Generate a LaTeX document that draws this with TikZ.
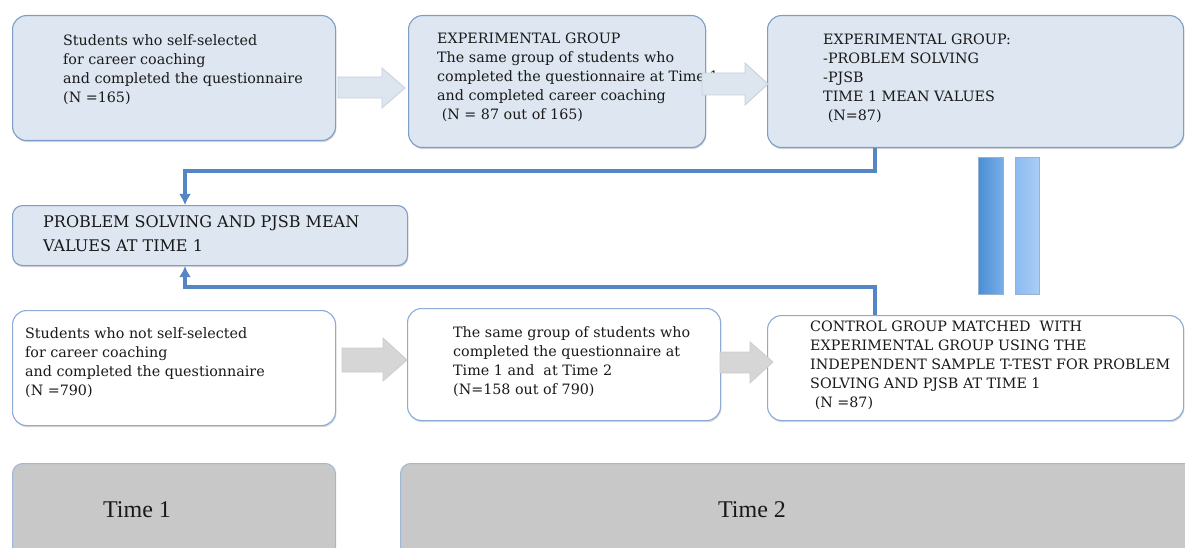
\documentclass[tikz,border=0pt]{standalone}
\usepackage{fontspec}
\setmainfont{DejaVu Serif}
\newfontfamily\timefont{Liberation Serif}
\usetikzlibrary{calc,shadows,arrows.meta}
\definecolor{topfill}{RGB}{221,230,241}
\definecolor{boxline}{RGB}{125,158,200}
\definecolor{lowline}{RGB}{140,172,215}
\definecolor{connblue}{RGB}{84,133,196}
\definecolor{arrfill}{RGB}{221,229,239}
\definecolor{arrline}{RGB}{196,208,222}
\definecolor{grayarr}{RGB}{214,214,214}
\definecolor{grayline}{RGB}{205,205,205}
\definecolor{timefill}{RGB}{200,200,200}
\definecolor{timeline}{RGB}{160,184,216}
\definecolor{txt}{RGB}{25,25,25}
\definecolor{barA}{RGB}{74,142,214}
\definecolor{barB}{RGB}{122,174,232}
\definecolor{barC}{RGB}{140,187,240}
\definecolor{barD}{RGB}{170,205,246}
\begin{document}
\begin{tikzpicture}[x=1pt,y=-1pt,
  shade box/.style={drop shadow={shadow xshift=0.8pt,shadow yshift=-1.6pt,opacity=0.22,fill=black!70}},
  topbox/.style={draw=boxline,line width=1.1pt,fill=topfill,rounded corners=14pt,anchor=north west,inner sep=0pt,shade box},
  lowbox/.style={draw=lowline,line width=1.1pt,fill=white,rounded corners=14pt,anchor=north west,inner sep=0pt,shade box},
  timebox/.style={draw=timeline,line width=1pt,fill=timefill,rounded corners=10pt,anchor=north west,inner sep=0pt},
  boxtext/.style={font=\fontsize{14.3}{19}\selectfont,text=txt,align=left,anchor=north west,inner sep=0pt},
  bigtext/.style={font=\fontsize{16}{24}\selectfont,text=txt,align=left,anchor=north west,inner sep=0pt},
  timetext/.style={font=\timefont\fontsize{24}{28}\selectfont,text=txt,inner sep=0pt},
  toparrow/.style={fill=arrfill,draw=arrline,line width=0.8pt},
  grayarrow/.style={fill=grayarr,draw=grayline,line width=0.8pt},
  conn/.style={draw=connblue,line width=3.4pt,-{Latex[length=11pt,width=12pt]}},
  bar/.style={draw=boxline!80,line width=0.6pt,anchor=north west,inner sep=0pt,minimum width=25pt,minimum height=137pt}
]
\useasboundingbox (0,0) rectangle (1185,548);

% top row boxes
\node[topbox,minimum width=323pt,minimum height=125pt] (A) at (12,15) {};
\node[topbox,minimum width=297pt,minimum height=132pt] (B) at (408,15) {};
\node[topbox,minimum width=416pt,minimum height=132pt] (C) at (767,15) {};

\node[boxtext] (tA) at (63,34) {Students who self-selected\\for career coaching\\and completed the questionnaire\\(N =165)};
\node[boxtext] (tB) at (437,33) {EXPERIMENTAL GROUP\\The same group of students who\\completed the questionnaire at Time 1\\and completed career coaching\\\ (N = 87 out of 165)};
\node[boxtext] (tC) at (823,34) {EXPERIMENTAL GROUP:\\-PROBLEM SOLVING\\-PJSB\\TIME 1 MEAN VALUES\\\ (N=87)};

% top block arrows
\draw[toparrow] (338,77) -- (382,77) -- (382,68) -- (405,88) -- (382,108) -- (382,98) -- (338,98) -- cycle;
\draw[toparrow] (702,73) -- (745,73) -- (745,63) -- (768,84) -- (745,105) -- (745,95) -- (702,95) -- cycle;

% middle box
\node[topbox,rounded corners=10pt,minimum width=395pt,minimum height=60pt] (D) at (12,205) {};
\node[bigtext] (tD) at (43,215) {PROBLEM SOLVING AND PJSB MEAN\\VALUES AT TIME 1};

% bars
\node[bar,left color=barA,right color=barB] (bar1) at (978,157) {};
\node[bar,left color=barC,right color=barD,minimum width=24pt] (bar2) at (1015,157) {};

% lower row boxes
\node[lowbox,minimum width=323pt,minimum height=115pt] (E) at (12,310) {};
\node[lowbox,minimum width=313pt,minimum height=112pt] (F) at (407,308) {};
\node[lowbox,minimum width=416pt,minimum height=105pt] (G) at (767,315) {};

\node[boxtext] (tE) at (25,327) {Students who not self-selected\\for career coaching\\and completed the questionnaire\\(N =790)};
\node[boxtext] (tF) at (453,326) {The same group of students who\\completed the questionnaire at\\Time 1 and \ at Time 2\\(N=158 out of 790)};
\node[boxtext] (tG) at (810,321) {CONTROL GROUP MATCHED \ WITH\\EXPERIMENTAL GROUP USING THE\\INDEPENDENT SAMPLE T-TEST FOR PROBLEM\\SOLVING AND PJSB AT TIME 1\\\ (N =87)};

% lower block arrows
\draw[grayarrow] (342,348) -- (383,348) -- (383,338) -- (407,360) -- (383,381) -- (383,372) -- (342,372) -- cycle;
\draw[grayarrow] (720,352) -- (750,352) -- (750,342) -- (773,362) -- (750,383) -- (750,373) -- (720,373) -- cycle;

% connectors
\draw[conn] ([xshift=108pt]C.south west) -- ++(0,23) -| ([xshift=173pt]D.north west);
\draw[conn] ([xshift=108pt]G.north west) -- ++(0,-28) -| ([xshift=173pt]D.south west);

% time boxes
\node[timebox,minimum width=323pt,minimum height=100pt] (T1) at (12,463) {};
\node[timebox,minimum width=800pt,minimum height=100pt] (T2) at (400,463) {};
\node[timetext] (tT1) at (137,510) {Time 1};
\node[timetext] (tT2) at (752,510) {Time 2};
\end{tikzpicture}
\end{document}
